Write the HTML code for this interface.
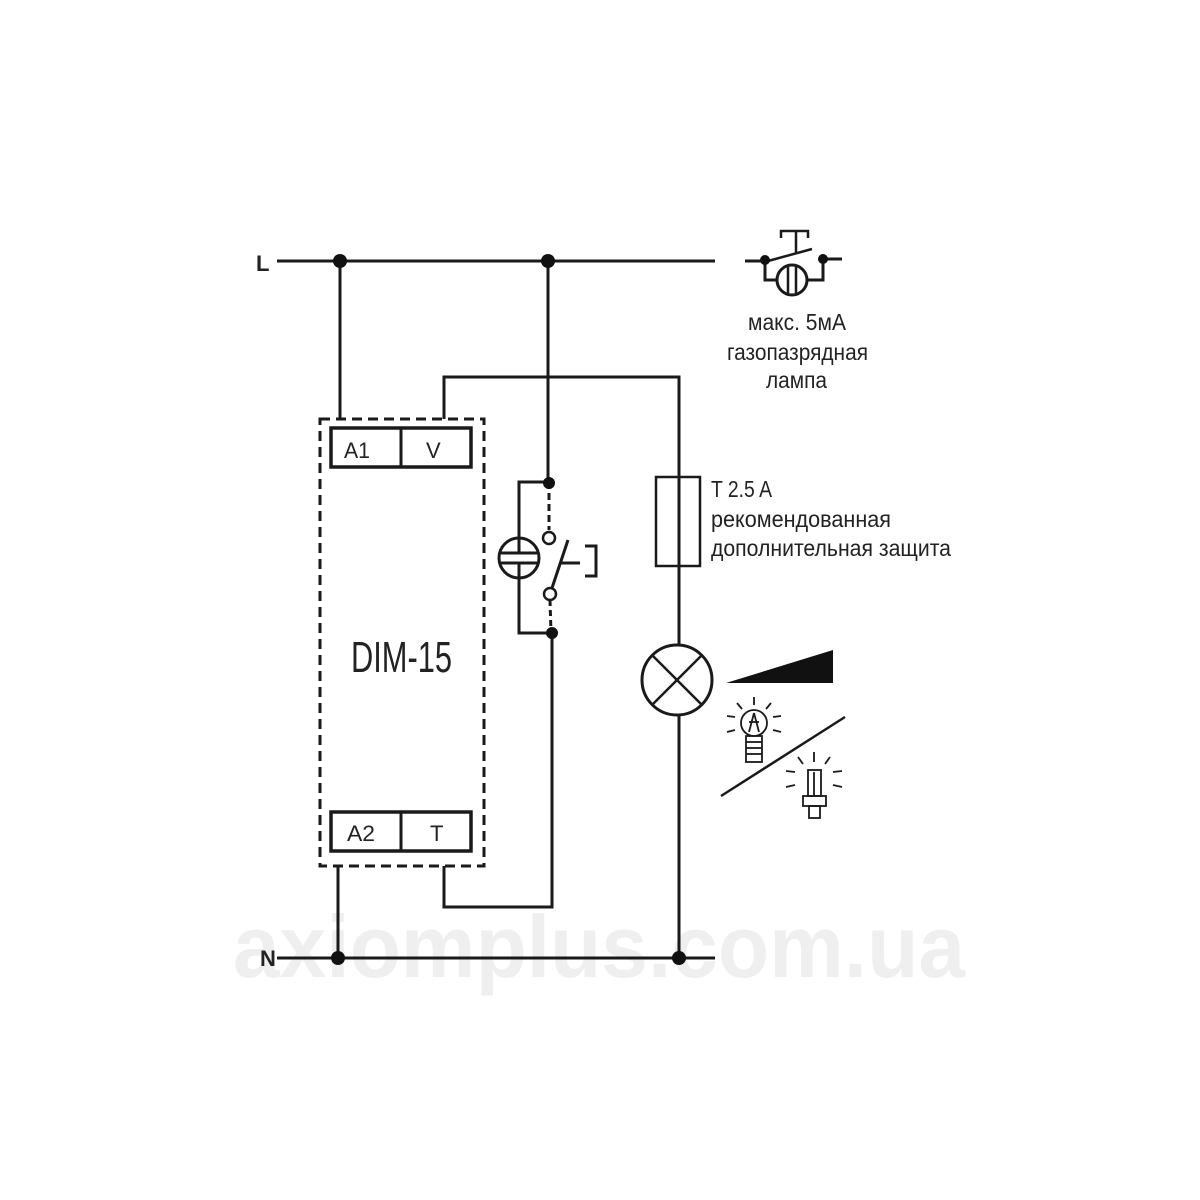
<!DOCTYPE html>
<html><head><meta charset="utf-8"><style>
html,body{margin:0;padding:0;background:#fff;}
svg{display:block;}
text{font-family:"Liberation Sans Narrow","Liberation Sans",sans-serif;fill:#222;}
</style></head><body>
<svg width="1200" height="1200" viewBox="0 0 1200 1200" xmlns="http://www.w3.org/2000/svg">
<!-- watermark -->
<text x="233" y="977" font-size="88" font-weight="bold" textLength="732" lengthAdjust="spacingAndGlyphs" style="fill:#efefef">axiomplus.com.ua</text>

<g stroke="#1a1a1a" stroke-width="3" fill="none">
  <!-- L and N lines -->
  <line x1="277" y1="261" x2="715" y2="261"/>
  <line x1="277" y1="958" x2="715" y2="958"/>
  <!-- A1 wire -->
  <line x1="340" y1="261" x2="340" y2="419"/>
  <!-- A2 wire -->
  <line x1="338" y1="866" x2="338" y2="958"/>
  <!-- V wire -->
  <polyline points="444,419 444,377 679,377 679,645"/>
  <line x1="679" y1="715" x2="679" y2="958"/>
  <!-- fuse -->
  <rect x="656" y="477" width="44" height="89" stroke-width="2.5"/>
  <!-- lamp -->
  <circle cx="677" cy="680" r="35"/>
  <line x1="652" y1="655" x2="702" y2="705" stroke-width="2.5"/>
  <line x1="702" y1="655" x2="652" y2="705" stroke-width="2.5"/>
  <!-- T wire -->
  <polyline points="444,866 444,907 552,907 552,633"/>
  <!-- L branch -->
  <line x1="548" y1="261" x2="548" y2="482"/>
  <!-- glow lamp loop -->
  <polyline points="548,482 519,482 519,633 552,633"/>
  <circle cx="519" cy="558" r="20" fill="#fff"/>
  <line x1="501" y1="553" x2="537" y2="553"/>
  <line x1="501" y1="563" x2="537" y2="563"/>
  <line x1="519" y1="538" x2="519" y2="553"/>
  <line x1="519" y1="563" x2="519" y2="578"/>
  <!-- switch -->
  <line x1="549" y1="482" x2="549" y2="530" stroke-dasharray="7,4"/>
  <circle cx="549" cy="538" r="6" stroke-width="2.5"/>
  <circle cx="550" cy="594" r="6" stroke-width="2.5"/>
  <line x1="550" y1="600" x2="551" y2="633" stroke-dasharray="6,4"/>
  <line x1="552" y1="588" x2="568" y2="540"/>
  <line x1="560" y1="563" x2="580" y2="563"/>
  <polyline points="585,546 596,546 596,576 585,576"/>
  <!-- dashed DIM box -->
  <rect x="320" y="419" width="164" height="447" stroke-dasharray="10,6"/>
  <!-- terminals -->
  <rect x="331" y="428" width="140" height="39" stroke-width="3.5"/>
  <line x1="401" y1="428" x2="401" y2="467"/>
  <rect x="331" y="812" width="140" height="39" stroke-width="3.5"/>
  <line x1="401" y1="812" x2="401" y2="851"/>
  <!-- top right glow button icon -->
  <line x1="745" y1="261" x2="768" y2="261"/>
  <line x1="823" y1="259" x2="842" y2="259"/>
  <line x1="768" y1="261" x2="812" y2="249" stroke-width="2.5"/>
  <line x1="796" y1="253" x2="796" y2="232" stroke-width="2.5"/>
  <polyline points="781,238 781,231 808,231 808,238" stroke-width="2.5"/>
  <polyline points="765,261 765,280 777,280"/>
  <polyline points="823,259 823,280 807,280"/>
  <circle cx="792" cy="280" r="15" stroke-width="3"/>
  <line x1="788" y1="267" x2="788" y2="293" stroke-width="2.5"/>
  <line x1="796" y1="267" x2="796" y2="293" stroke-width="2.5"/>
  <!-- diagonal -->
  <line x1="721" y1="796" x2="845" y2="717" stroke-width="2.5"/>
  <!-- incandescent bulb -->
  <g stroke-width="1.8">
    <circle cx="754" cy="723" r="13"/>
    <rect x="746" y="736" width="16" height="26"/>
    <line x1="746" y1="742" x2="762" y2="742"/>
    <line x1="746" y1="748" x2="762" y2="748"/>
    <line x1="746" y1="754" x2="762" y2="754"/>
    <line x1="749" y1="732" x2="754" y2="713"/><line x1="759" y1="732" x2="754" y2="713"/>
    <line x1="749" y1="722" x2="759" y2="722"/>
    <line x1="754" y1="697" x2="754" y2="705"/>
    <line x1="737" y1="703" x2="742" y2="709"/><line x1="771" y1="703" x2="766" y2="709"/>
    <line x1="727" y1="716" x2="735" y2="717"/><line x1="781" y1="716" x2="773" y2="717"/>
    <line x1="727" y1="732" x2="735" y2="730"/><line x1="781" y1="732" x2="773" y2="730"/>
  </g>
  <!-- CFL -->
  <g stroke-width="1.8">
    <rect x="808" y="770" width="13" height="26"/>
    <line x1="814" y1="772" x2="814" y2="796"/>
    <rect x="803" y="796" width="23" height="10"/>
    <rect x="809" y="806" width="11" height="12"/>
    <line x1="814" y1="752" x2="814" y2="762"/>
    <line x1="798" y1="757" x2="803" y2="764"/><line x1="830" y1="757" x2="825" y2="764"/>
    <line x1="786" y1="771" x2="795" y2="772"/><line x1="842" y1="771" x2="833" y2="772"/>
    <line x1="786" y1="787" x2="795" y2="785"/><line x1="842" y1="787" x2="833" y2="785"/>
  </g>
</g>
<!-- ramp -->
<polygon points="726,683 833,683 833,650" fill="#111"/>
<!-- dots -->
<g fill="#111">
  <circle cx="340" cy="261" r="7"/><circle cx="548" cy="261" r="7"/>
  <circle cx="338" cy="958" r="7"/><circle cx="679" cy="958" r="7"/>
  <circle cx="549" cy="483" r="6"/><circle cx="552" cy="633" r="6"/>
  <circle cx="765" cy="260" r="5"/><circle cx="823" cy="259" r="5"/>
</g>
<!-- labels -->
<text x="256" y="271" font-size="22" font-weight="bold">L</text>
<text x="260" y="966" font-size="22" font-weight="bold">N</text>
<text x="344" y="458" font-size="22" textLength="26" lengthAdjust="spacingAndGlyphs">A1</text>
<text x="426" y="458" font-size="22">V</text>
<text x="347" y="841" font-size="22" textLength="28" lengthAdjust="spacingAndGlyphs">A2</text>
<text x="430" y="841" font-size="22">T</text>
<text x="351" y="672" font-size="44" textLength="101" lengthAdjust="spacingAndGlyphs">DIM-15</text>
<text x="748" y="330" font-size="23" textLength="98" lengthAdjust="spacingAndGlyphs">макс. 5мА</text>
<text x="727" y="360" font-size="23" textLength="141" lengthAdjust="spacingAndGlyphs">газопазрядная</text>
<text x="766" y="388" font-size="23" textLength="61" lengthAdjust="spacingAndGlyphs">лампа</text>
<text x="711" y="497" font-size="23" textLength="61" lengthAdjust="spacingAndGlyphs">T 2.5 A</text>
<text x="711" y="527" font-size="23" textLength="180" lengthAdjust="spacingAndGlyphs">рекомендованная</text>
<text x="711" y="556" font-size="23" textLength="240" lengthAdjust="spacingAndGlyphs">дополнительная защита</text>
</svg>
</body></html>
